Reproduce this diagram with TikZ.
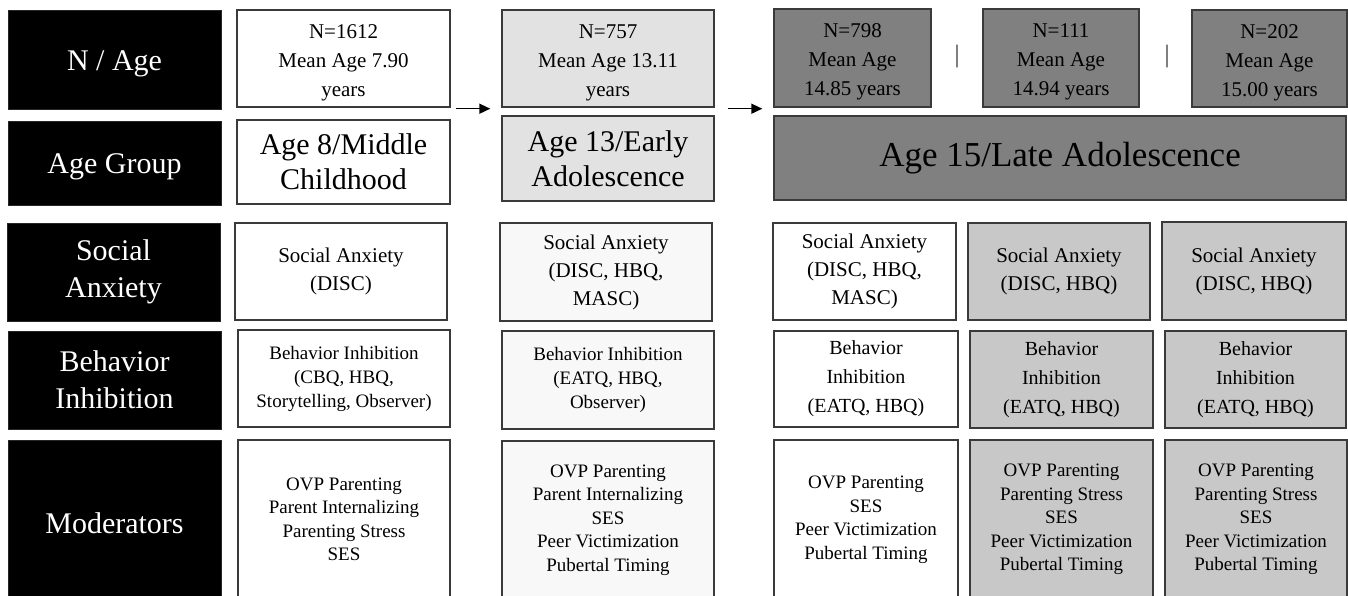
\documentclass[tikz,border=0pt]{standalone}
\usepackage{fontspec}
\setmainfont{Liberation Serif}
\usetikzlibrary{arrows.meta,calc}
\newcommand\setfs[2]{\fontsize{#1}{#2}\selectfont}
\newcommand\lowr[1]{\raisebox{-4pt}[\height][\depth]{#1}}
\newcommand\topstrut{\rule{0pt}{22pt}}
\definecolor{darkbox}{HTML}{808080}
\definecolor{lightbox}{HTML}{E2E2E2}
\definecolor{midbox}{HTML}{C8C8C8}
\definecolor{offwhite}{HTML}{F8F8F8}
\definecolor{edge}{HTML}{3A3A3A}
\tikzset{
  lab/.style={draw=black!85, fill=black, text=white, line width=1pt, align=center, inner sep=0pt, font=\setfs{30}{37}},
  box/.style={draw=edge, line width=1.4pt, align=center, inner sep=0pt},
  nfont/.style={font=\setfs{21}{29}},
  gfont/.style={font=\setfs{30}{35}},
  sfont/.style={font=\setfs{21}{28}},
  bfont/.style={font=\setfs{19}{24}},
  bbfont/.style={font=\setfs{20}{29}},
  mfont/.style={font=\setfs{19}{23.5}},
  arr/.style={-{Triangle[length=11pt,width=10pt]}, line width=1.5pt, draw=black},
  sepmark/.style={font=\setfs{25}{25}, text=black!80, inner sep=0pt}
}
\begin{document}
\begin{tikzpicture}[x=1pt,y=-1pt]
\useasboundingbox (0,0) rectangle (1348,595);

% row labels
\node[lab, minimum width=213, minimum height=99] (lNA) at (114.5,59.5) {\lowr{N / Age}};
\node[lab, minimum width=213, minimum height=84] (lAG) at (114.5,163) {\lowr{Age Group}};
\node[lab, minimum width=213, minimum height=98] (lSA) at (113.5,272) {Social\\Anxiety};
\node[lab, minimum width=213, minimum height=98] (lBI) at (114.5,380) {Behavior\\Inhibition};
\node[lab, minimum width=213, minimum height=159] (lMO) at (114.5,519.5) {\lowr{Moderators}};

% column 1
\node[box, nfont, fill=white, minimum width=213, minimum height=97] (n1) at (343.5,58.5) {\topstrut N=1612\\Mean Age 7.90\\years};
\node[box, gfont, fill=white, minimum width=213, minimum height=84] (g1) at (343.5,162) {Age 8/Middle\\Childhood};
\node[box, sfont, fill=white, minimum width=212, minimum height=97] (s1) at (341,271.5) {Social Anxiety\\(DISC)};
\node[box, bfont, fill=white, minimum width=212, minimum height=97] (b1) at (344,378.5) {Behavior Inhibition\\(CBQ, HBQ,\\Storytelling, Observer)};
\node[box, mfont, fill=white, minimum width=212, minimum height=159] (m1) at (344,519.5) {OVP Parenting\\Parent Internalizing\\Parenting Stress\\SES};

% column 2
\node[box, nfont, fill=lightbox, minimum width=212, minimum height=97] (n2) at (608,58.5) {\topstrut N=757\\Mean Age 13.11\\years};
\node[box, gfont, fill=lightbox, minimum width=212, minimum height=85] (g2) at (608,158.5) {Age 13/Early\\Adolescence};
\node[box, sfont, fill=offwhite, minimum width=212, minimum height=98] (s2) at (606,272) {Social Anxiety\\(DISC, HBQ,\\MASC)};
\node[box, bfont, fill=offwhite, minimum width=212, minimum height=98] (b2) at (608,380) {Behavior Inhibition\\(EATQ, HBQ,\\Observer)};
\node[box, mfont, fill=offwhite, minimum width=212, minimum height=158] (m2) at (608,520) {OVP Parenting\\Parent Internalizing\\SES\\Peer Victimization\\Pubertal Timing};

% column 3 top
\node[box, nfont, fill=darkbox, minimum width=157, minimum height=98] (n3) at (852.5,58) {\topstrut N=798\\Mean Age\\14.85 years};
\node[box, nfont, fill=darkbox, minimum width=156, minimum height=98] (n4) at (1061,58) {\topstrut N=111\\Mean Age\\14.94 years};
\node[box, nfont, fill=darkbox, minimum width=155, minimum height=97] (n5) at (1269.5,58.5) {\topstrut N=202\\Mean Age\\15.00 years};
\node[box, font=\setfs{35}{40}, fill=darkbox, minimum width=572, minimum height=84] (g3) at (1060,158) {Age 15/Late Adolescence};

\node[sepmark] (sep1) at (957,57) {|};
\node[sepmark] (sep2) at (1167,57) {|};

% column 3 body
\node[box, sfont, fill=white, minimum width=183, minimum height=97] (s3) at (864.5,271.5) {Social Anxiety\\(DISC, HBQ,\\MASC)};
\node[box, sfont, fill=midbox, minimum width=182, minimum height=97] (s4) at (1059,271.5) {Social Anxiety\\(DISC, HBQ)};
\node[box, sfont, fill=midbox, minimum width=184, minimum height=98] (s5) at (1254,271) {Social Anxiety\\(DISC, HBQ)};

\node[box, bbfont, fill=white, minimum width=184, minimum height=96] (b3) at (866,379) {Behavior\\Inhibition\\(EATQ, HBQ)};
\node[box, bbfont, fill=midbox, minimum width=183, minimum height=97] (b4) at (1061.5,379.5) {Behavior\\Inhibition\\(EATQ, HBQ)};
\node[box, bbfont, fill=midbox, minimum width=181, minimum height=97] (b5) at (1255.5,379.5) {Behavior\\Inhibition\\(EATQ, HBQ)};

\node[box, mfont, fill=white, minimum width=184, minimum height=159] (m3) at (866,519.5) {OVP Parenting\\SES\\Peer Victimization\\Pubertal Timing};
\node[box, mfont, fill=midbox, minimum width=183, minimum height=159] (m4) at (1061.5,519.5) {OVP Parenting\\Parenting Stress\\SES\\Peer Victimization\\Pubertal Timing};
\node[box, mfont, fill=midbox, minimum width=182, minimum height=159] (m5) at (1256,519.5) {OVP Parenting\\Parenting Stress\\SES\\Peer Victimization\\Pubertal Timing};

% arrows
\draw[arr] ($(n1.south east)+(5,1)$) -- ($(n2.south west)+(-11,1)$);
\draw[arr] ($(n2.south east)+(13,1)$) -- ($(n3.south west)+(-11,1)$);
\end{tikzpicture}
\end{document}
